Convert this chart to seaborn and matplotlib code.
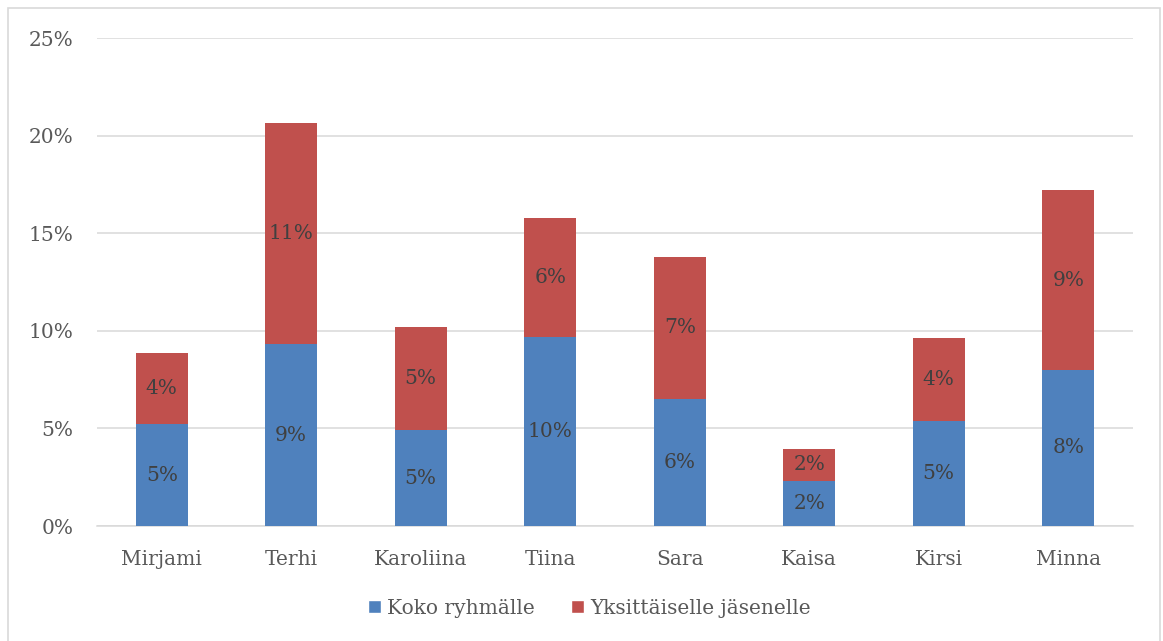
import matplotlib
matplotlib.use("Agg")
import matplotlib.pyplot as plt
import seaborn as sns
import pandas as pd
from matplotlib.patches import Rectangle, Patch

# Osuudet (%) per henkilö
names = ["Mirjami", "Terhi", "Karoliina", "Tiina", "Sara", "Kaisa", "Kirsi", "Minna"]
koko_ryhmalle = [5.2, 9.3, 4.9, 9.7, 6.5, 2.3, 5.4, 8.0]
yksittaiselle = [3.65, 11.35, 5.3, 6.1, 7.3, 1.65, 4.25, 9.2]
series_names = ["Koko ryhmälle", "Yksittäiselle jäsenelle"]
y_ticks = [0, 5, 10, 15, 20, 25]

blue = "#4F81BD"
red = "#C0504D"
axis_text = "#595959"
label_text = "#404040"
grid_col = "#D9D9D9"

sns.set_theme(style="white")
plt.rcParams["font.family"] = ["DejaVu Serif"]

totals = [a + b for a, b in zip(koko_ryhmalle, yksittaiselle)]
df = pd.DataFrame({"name": names, "koko": koko_ryhmalle, "yks": yksittaiselle, "total": totals})

fig = plt.figure(figsize=(11.63, 6.41), dpi=100)
ax = fig.add_axes([97 / 1163, 115 / 641, (1133 - 97) / 1163, (526 - 38) / 641])

# stacked bars: full height in red, lower segment in blue on top
sns.barplot(data=df, x="name", y="total", color=red, width=0.4, saturation=1, linewidth=0, ax=ax, zorder=3)
sns.barplot(data=df, x="name", y="koko", color=blue, width=0.4, saturation=1, linewidth=0, ax=ax, zorder=4)

fs = 14.5
for i, (a, b) in enumerate(zip(koko_ryhmalle, yksittaiselle)):
    ax.text(i, a / 2, f"{round(a):.0f}%", ha="center", va="center", fontsize=fs, color=label_text, zorder=5)
    ax.text(i, a + b / 2, f"{round(b):.0f}%", ha="center", va="center", fontsize=fs, color=label_text, zorder=5)

ax.set_ylim(0, 25)
ax.set_xlim(-0.5, len(names) - 0.5)
ax.set_yticks(y_ticks)
ax.set_yticklabels([f"{t}%" for t in y_ticks])
ax.yaxis.grid(True, color=grid_col, linewidth=1.1, zorder=0)
ax.set_axisbelow(True)
for s in ["top", "right", "left"]:
    ax.spines[s].set_visible(False)
ax.spines["bottom"].set_color(grid_col)
ax.spines["bottom"].set_linewidth(1.1)
ax.tick_params(axis="both", length=0, labelsize=fs, colors=axis_text)
ax.tick_params(axis="y", pad=17)
ax.tick_params(axis="x", pad=17)
ax.set_xlabel("")
ax.set_ylabel("")

handles = [Patch(facecolor=blue, label=series_names[0]), Patch(facecolor=red, label=series_names[1])]
leg = fig.legend(handles=handles, loc="center", bbox_to_anchor=(589 / 1163, 1 - 608 / 641), ncol=2,
                 frameon=False, fontsize=fs, handlelength=0.65, handleheight=0.65, handletextpad=0.3,
                 columnspacing=1.8)
for t in leg.get_texts():
    t.set_color(axis_text)

# outer chart frame
fig.patches.append(Rectangle((8 / 1163, -0.01), (1160 - 8) / 1163, 1 - 8 / 641 + 0.01,
                             transform=fig.transFigure, fill=False, edgecolor="#D9D9D9", linewidth=1.2))

fig.savefig("out.png", dpi=100, facecolor="white")
